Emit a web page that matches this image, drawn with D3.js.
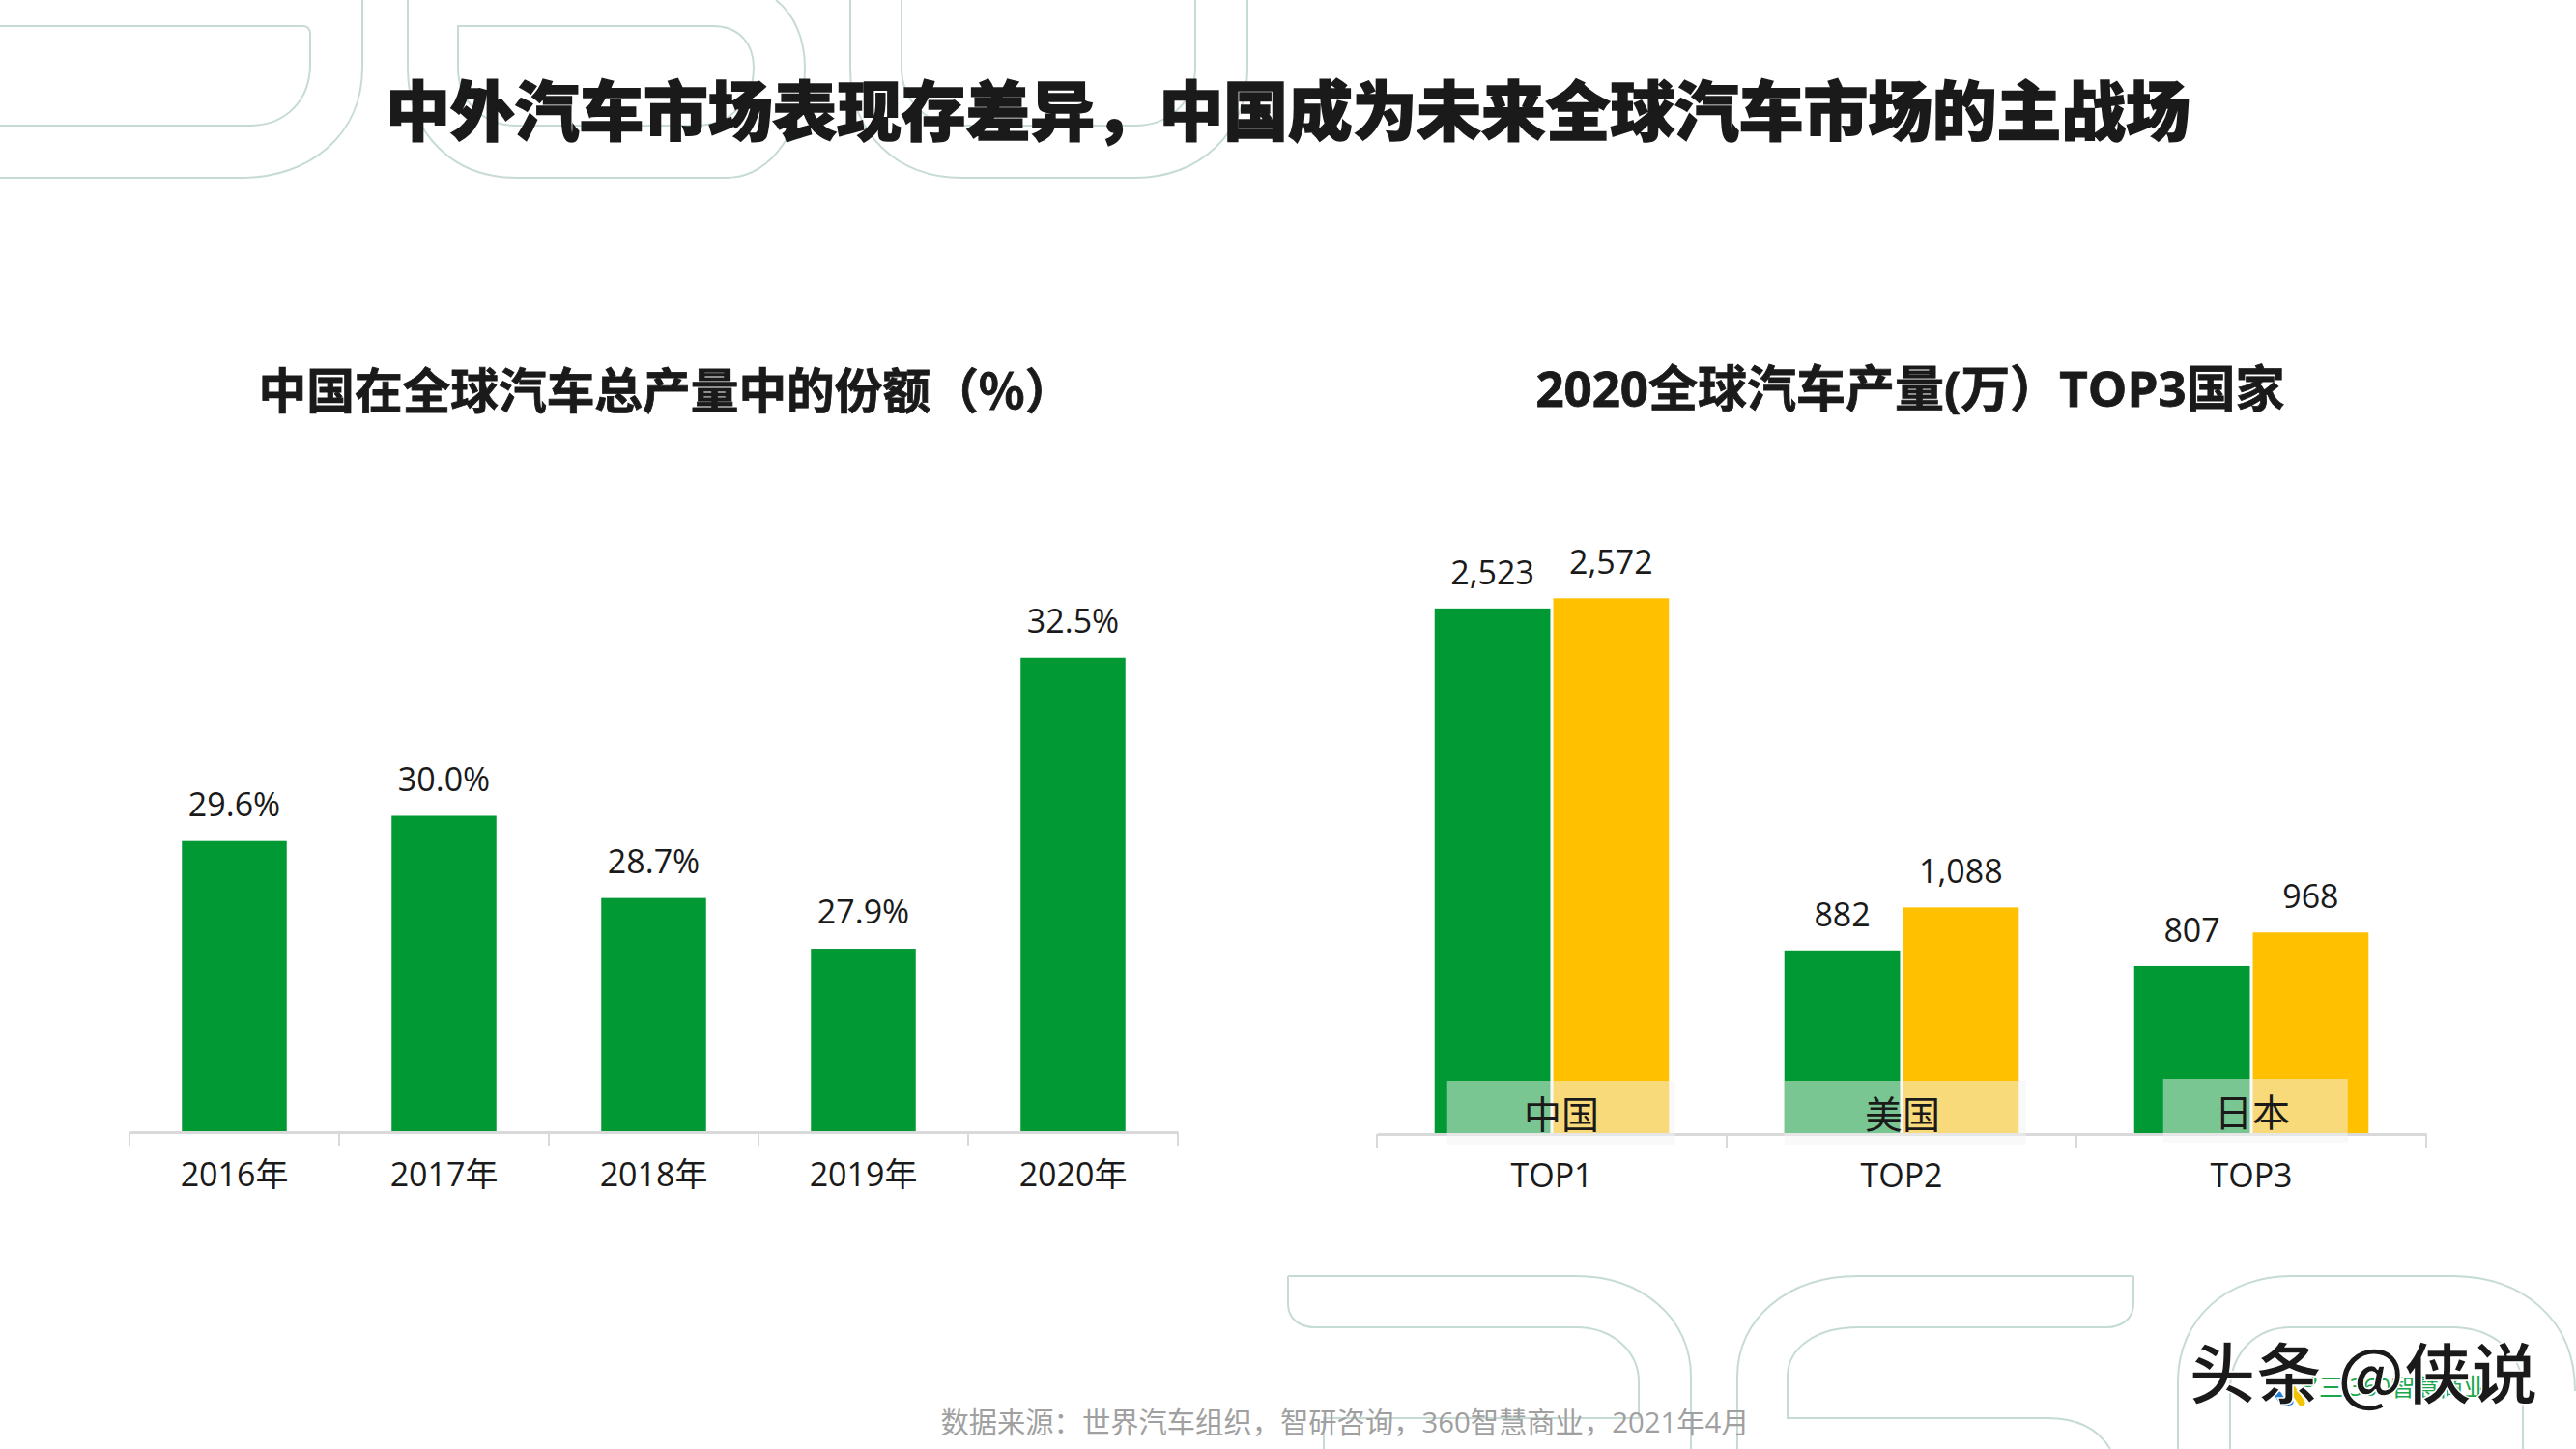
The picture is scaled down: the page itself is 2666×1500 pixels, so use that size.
<!DOCTYPE html>
<html>
<head>
<meta charset="utf-8">
<script src="https://cdn.jsdelivr.net/npm/d3@7"></script>
<style>
  html, body { margin: 0; padding: 0; background: #fff; }
  svg { display: block; }
  text { font-family: "Open Sans", "Noto Sans CJK SC", sans-serif; fill: #1a1a1a; }
</style>
</head>
<body>
<div id="chart"></div>
<script>
// данные левого графика
const years = ["2016年", "2017年", "2018年", "2019年", "2020年"];
const shareValues = [29.6, 30.0, 28.7, 27.9, 32.5];

// данные правого графика
const topLabels = ["TOP1", "TOP2", "TOP3"];
const countries = ["中国", "美国", "日本"];
const greenValues = [2523, 882, 807];
const yellowValues = [2572, 1088, 968];

const titleText = "中外汽车市场表现存差异，中国成为未来全球汽车市场的主战场";
const leftTitle = "中国在全球汽车总产量中的份额（%）";
const rightTitle = "2020全球汽车产量(万）TOP3国家";
const sourceText = "数据来源：世界汽车组织，智研咨询，360智慧商业，2021年4月";

const width = 2666, height = 1500;
const green = "#009933", yellow = "#FFC000", axisColor = "#d9d9d9", decoColor = "#c6dbd4";

const svg = d3.select("#chart").append("svg")
  .attr("width", width).attr("height", height);

// фоновые контуры
const decoPaths = [
  "M0,27 H314 Q321,27 321,36 V66 C321,105 295,130 258,130 H0",
  "M375,0 V70 C375,140 320,184 250,184 H0",
  "M422,0 V70 C422,140 470,184 535,184 H752 C800,184 833,130 833,70 C833,40 822,15 803,0",
  "M474,27 H738 C765,27 780,45 780,70 C780,105 755,130 720,130 H535 C500,130 474,105 474,70 Z",
  "M880,0 V70 C880,140 930,184 995,184 H1175 C1240,184 1291,140 1291,70 V0",
  "M933,0 V70 C933,105 960,130 995,130 H1175 C1210,130 1237,105 1237,70 V0",
  "M1333,1321 H1631 C1700,1321 1750,1365 1750,1425 V1500",
  "M1333,1321 V1350 C1333,1365 1345,1374 1361,1374 H1631 C1670,1374 1696,1400 1696,1430 V1468 H1370 V1500",
  "M2208,1321 H1923 C1850,1321 1798,1365 1798,1425 V1500",
  "M2208,1321 V1350 C2208,1365 2196,1374 2180,1374 H1923 C1880,1374 1850,1395 1850,1425 V1468 H2119 C2150,1468 2172,1480 2184,1500",
  "M2254,1500 V1430 C2254,1365 2305,1321 2371,1321 H2537 C2610,1321 2665,1365 2665,1440",
  "M2308,1500 V1440 C2308,1400 2335,1374 2371,1374 H2537 C2580,1374 2611,1400 2611,1440 V1500"
];
svg.append("g").attr("fill", "none").attr("stroke", decoColor).attr("stroke-width", 2)
  .selectAll("path").data(decoPaths).enter().append("path").attr("d", (d) => d);

// заголовки
svg.append("text").attr("x", 1333).attr("y", 111).attr("text-anchor", "middle")
  .attr("dominant-baseline", "central")
  .style("font-family", '"Noto Sans CJK SC", sans-serif')
  .attr("stroke", "#1a1a1a").attr("stroke-width", 1.5)
  .attr("font-size", 66.7).attr("font-weight", 900).text(titleText);
svg.append("text").attr("x", 689).attr("y", 401).attr("text-anchor", "middle")
  .attr("dominant-baseline", "central")
  .style("font-family", '"Noto Sans CJK SC", sans-serif')
  .attr("stroke", "#1a1a1a").attr("stroke-width", 0.8)
  .attr("font-size", 49.7).attr("font-weight", 700).text(leftTitle);
svg.append("text").attr("x", 1977).attr("y", 401).attr("text-anchor", "middle")
  .attr("dominant-baseline", "central")
  .attr("stroke", "#1a1a1a").attr("stroke-width", 0.8)
  .attr("font-size", 51).attr("font-weight", 700).text(rightTitle);

// ось с засечками на границах категорий
const drawAxis = (scale, axisY, labelDy) => {
  const g = svg.append("g").attr("transform", `translate(0,${axisY})`)
    .call(d3.axisBottom(scale).tickSize(0).tickPadding(labelDy));
  g.select(".domain").attr("stroke", axisColor).attr("stroke-width", 3);
  g.selectAll("text").attr("font-size", 34).attr("font-family", null);
  const [x0] = scale.range();
  g.selectAll("line.edge")
    .data(d3.range(scale.domain().length + 1))
    .enter().append("line").attr("class", "edge")
    .attr("x1", (i) => x0 + i * scale.step()).attr("x2", (i) => x0 + i * scale.step())
    .attr("y1", 0).attr("y2", 14)
    .attr("stroke", axisColor).attr("stroke-width", 2);
};

// левый график
const leftY0 = 1172;
const xLeft = d3.scaleBand().domain(years).range([134, 1219]).paddingInner(0.5).paddingOuter(0.25);
const yLeft = d3.scaleLinear().domain([25, 35]).range([leftY0, 517]);

const leftData = years.map((year, i) => ({ year, value: shareValues[i] }));
svg.append("g").selectAll("rect").data(leftData).enter().append("rect")
  .attr("x", (d) => xLeft(d.year)).attr("width", xLeft.bandwidth())
  .attr("y", (d) => yLeft(d.value)).attr("height", (d) => leftY0 - yLeft(d.value))
  .attr("fill", green);
svg.append("g").selectAll("text").data(leftData).enter().append("text")
  .attr("x", (d) => xLeft(d.year) + xLeft.bandwidth() / 2)
  .attr("y", (d) => yLeft(d.value) - 39)
  .attr("text-anchor", "middle").attr("dominant-baseline", "central")
  .attr("font-size", 34).text((d) => d.value.toFixed(1) + "%");
drawAxis(xLeft, leftY0, 32);

// правый график
const rightY0 = 1174;
const xRight = d3.scaleBand().domain(topLabels).range([1425, 2511]).paddingInner(0.33).paddingOuter(0.165);
const xInner = d3.scaleBand().domain(["green", "yellow"]).range([0, xRight.bandwidth()]).paddingInner(0.025);
const yRight = d3.scaleLinear().domain([0, 3000]).range([rightY0, 527]);
const colorRight = d3.scaleOrdinal().domain(["green", "yellow"]).range([green, yellow]);
const fmt = d3.format(",");

const rightData = topLabels.flatMap((top, i) => [
  { top, key: "green", value: greenValues[i] },
  { top, key: "yellow", value: yellowValues[i] }
]);
svg.append("g").selectAll("rect").data(rightData).enter().append("rect")
  .attr("x", (d) => xRight(d.top) + xInner(d.key)).attr("width", xInner.bandwidth())
  .attr("y", (d) => yRight(d.value)).attr("height", (d) => rightY0 - yRight(d.value))
  .attr("fill", (d) => colorRight(d.key));
svg.append("g").selectAll("text").data(rightData).enter().append("text")
  .attr("x", (d) => xRight(d.top) + xInner(d.key) + xInner.bandwidth() / 2)
  .attr("y", (d) => yRight(d.value) - 38)
  .attr("text-anchor", "middle").attr("dominant-baseline", "central")
  .attr("font-size", 34).text((d) => fmt(d.value));

drawAxis(xRight, rightY0, 31);

// полупрозрачные подложки с названиями стран
const plateLeft = [13, 0, 30], plateWidth = [236, 250, 191], plateTop = [1119, 1119, 1117];
const labelShift = [10, 1, 1];
const plates = svg.append("g").selectAll("g").data(countries).enter().append("g");
plates.append("rect")
  .attr("x", (d, i) => xRight(topLabels[i]) + plateLeft[i]).attr("width", (d, i) => plateWidth[i])
  .attr("y", (d, i) => plateTop[i]).attr("height", 66)
  .attr("fill", "#f3f3f3").attr("opacity", 0.5);
plates.append("text")
  .attr("x", (d, i) => xRight(topLabels[i]) + xRight.bandwidth() / 2 + labelShift[i])
  .attr("y", (d, i) => plateTop[i] + 32)
  .attr("text-anchor", "middle").attr("dominant-baseline", "central")
  .style("font-family", '"Noto Sans CJK SC", sans-serif')
  .attr("font-size", 39).attr("font-weight", 400).text((d) => d);

// подпись источника
svg.append("text").attr("x", 1392).attr("y", 1472).attr("text-anchor", "middle")
  .attr("dominant-baseline", "central").attr("font-size", 29.3)
  .style("fill", "#a0a0a0").text(sourceText);

// логотип и водяной знак
const logo = svg.append("g").attr("fill", "none").attr("stroke-width", 7).attr("stroke-linecap", "round");
logo.append("path").attr("d", "M2358,1444 Q2362,1453 2370,1451").attr("stroke", "#1e7fd6");
logo.append("path").attr("d", "M2372,1437 L2382,1452").attr("stroke", "#f5c400");
logo.append("path").attr("d", "M2385,1432 Q2392,1434 2394,1429").attr("stroke", "#1aa64b");
svg.append("text").attr("x", 2400).attr("y", 1435).attr("dominant-baseline", "central")
  .attr("font-size", 25).style("fill", "#1aa64b").text("三 360智慧商业");
svg.append("text").attr("x", 2446).attr("y", 1418).attr("text-anchor", "middle")
  .attr("dominant-baseline", "central")
  .style("font-family", '"Noto Sans CJK SC", sans-serif')
  .attr("stroke", "#fff").attr("stroke-width", 1.5)
  .attr("font-size", 69).attr("font-weight", 700).text("头条 @侠说");
</script>
</body>
</html>
